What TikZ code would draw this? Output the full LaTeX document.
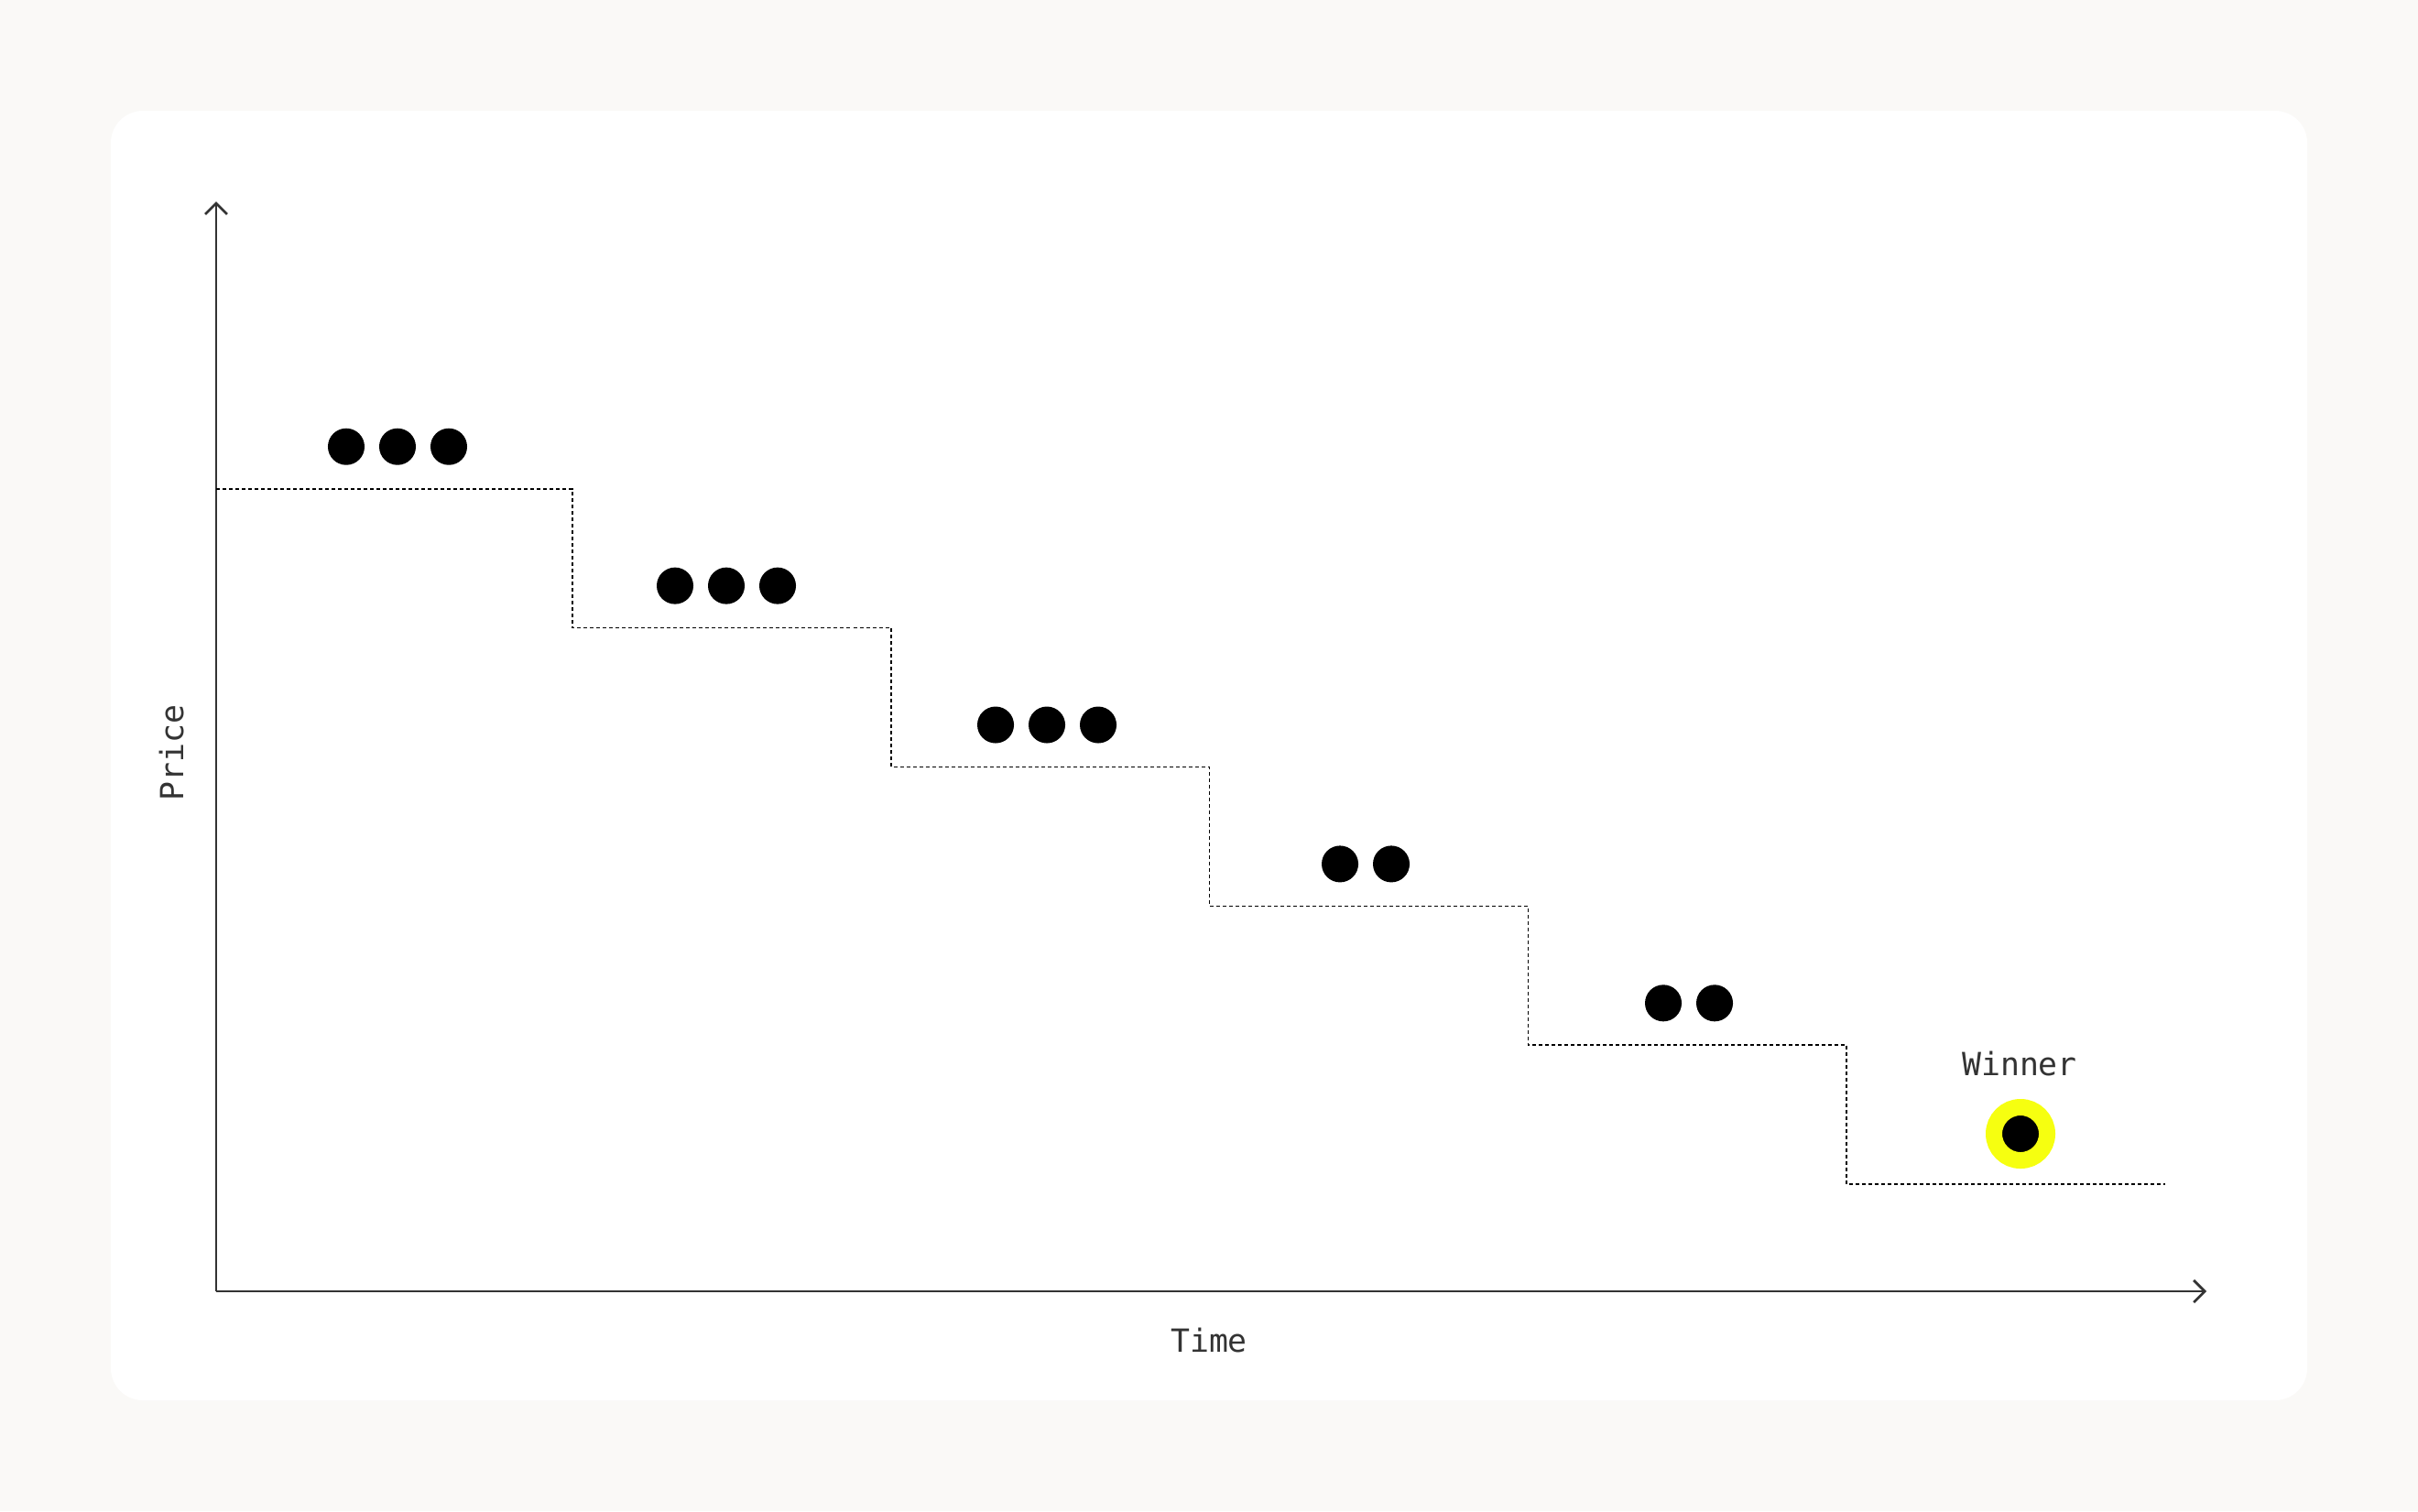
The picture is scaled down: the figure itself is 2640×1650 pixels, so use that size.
\documentclass[tikz,border=0pt]{standalone}
\usepackage{fontspec}
\setmonofont{DejaVu Sans Mono}
\usetikzlibrary{arrows.meta}
\definecolor{paper}{RGB}{250,249,247}
\definecolor{ink}{RGB}{51,51,51}
\definecolor{hilite}{RGB}{246,255,16}
\begin{document}
\begin{tikzpicture}[x=0.01cm, y=-0.01cm,
  bid/.style={circle,fill=black,minimum size=0.4cm,inner sep=0pt},
  winner/.style={circle,fill=black,draw=hilite,line width=0.18cm,minimum size=0.58cm,inner sep=0pt},
  axislabel/.style={font=\ttfamily\fontsize{9.9}{12}\selectfont,text=ink,anchor=base},
  axis/.style={ink,line width=0.027cm,-{Straight Barb[length=0.12cm,width=0.24cm]}},
  price/.style={black,line width=0.017cm,dash pattern=on 0.04cm off 0.03cm}]
  \fill[paper] (0,0) rectangle (2640,1650);
  \fill[white,rounded corners=0.35cm] (121,121) rectangle (2519,1529);

  % axes
  \coordinate (o) at (236,1410);
  \coordinate (ytip) at (236,220);
  \coordinate (xtip) at (2409,1410);
  \draw[axis] (o) -- (ytip);
  \draw[axis] (o) -- (xtip);
  \node[axislabel,rotate=90] (ylab) at (200,822) {Price};
  \node[axislabel] (xlab) at (1320,1476) {Time};

  % descending price steps
  \coordinate (s0) at (236,533.7);
  \foreach \i in {0,...,5}{
    \coordinate (e\i) at ({625+347.8*\i},{533.7+151.9*\i});
    \coordinate (s\i) at ({625+347.8*(\i-1)},{533.7+151.9*\i});
  }
  \coordinate (s0) at (236,533.7);
  \draw[price] (s0) -- (e0) -- (s1) -- (e1) -- (s2) -- (e2) -- (s3) -- (e3)
    -- (s4) -- (e4) -- (s5) -- (e5);

  % bidders left at each price
  \foreach \i/\cx/\n in {0/434/3,1/793/3,2/1143/3,3/1491/2,4/1844/2}{
    \foreach \k in {1,...,\n}{
      \node[bid] (b\i-\k) at ({\cx+56*(\k-(\n+1)/2)},{487.7+151.9*\i}) {};
    }
  }

  \node[winner] (w) at (2206,1238) {};
  \node[axislabel] (wlab) at (2205,1174) {Winner};
\end{tikzpicture}
\end{document}
